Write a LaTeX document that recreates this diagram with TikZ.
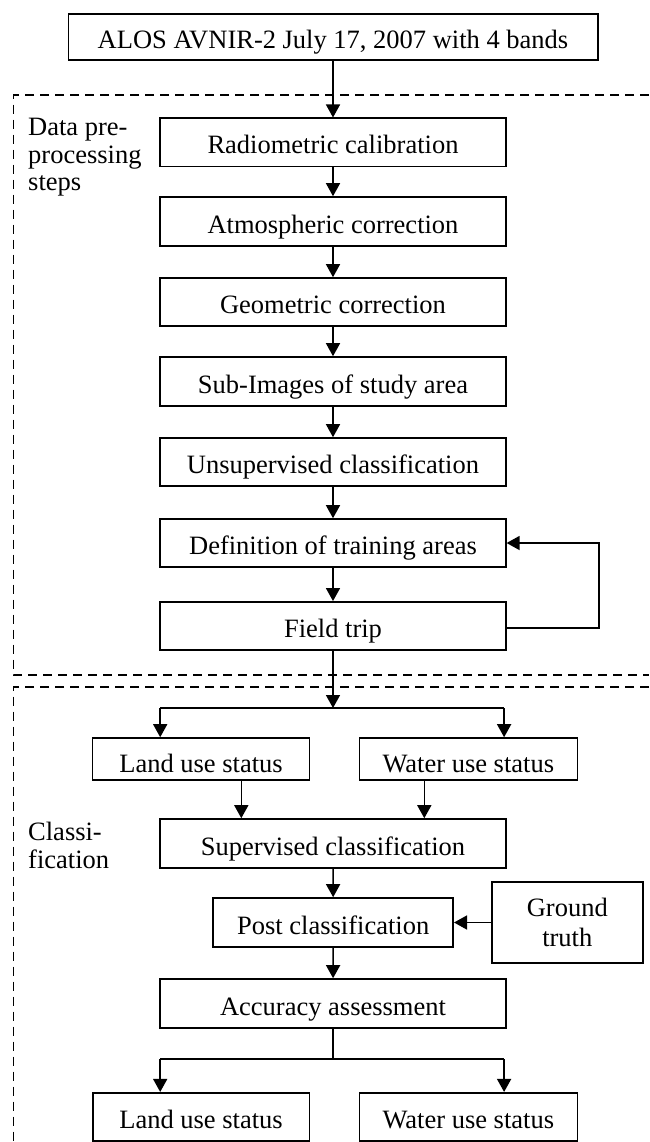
\documentclass[tikz,border=0pt]{standalone}
\usepackage{fontspec}
\setmainfont{Liberation Serif}
\usetikzlibrary{arrows.meta}
\begin{document}
\begin{tikzpicture}[x=1pt,y=-1pt,
  box/.style={draw, line width=1.6pt, inner sep=0pt, text depth=0pt, text height=23pt,
    font=\fontsize{26.5}{30}\selectfont},
  arr/.style={line width=1.5pt, -{Triangle[length=13pt,width=14pt]}},
  ln/.style={line width=1.5pt},
  dsh/.style={line width=1.3pt, dash pattern=on 9pt off 6pt},
  lbl/.style={anchor=north west, inner sep=0pt, align=left, font=\fontsize{26.5}{27.5}\selectfont}]
\useasboundingbox (0,0) rectangle (649,1142);

% nodes
\node[box, text height=22pt, minimum width=529.4pt, minimum height=46pt] (top) at (333,37.2) {ALOS AVNIR-2 July 17, 2007 with 4 bands};
\node[box, minimum width=345.6pt, minimum height=48.4pt] (rad) at (333,142.5) {Radiometric calibration};
\node[box, minimum width=345.6pt, minimum height=49pt] (atm) at (333,221.5) {Atmospheric correction};
\node[box, minimum width=345.6pt, minimum height=48pt] (geo) at (333,302) {Geometric correction};
\node[box, minimum width=345.6pt, minimum height=49pt] (sub) at (333,381.5) {Sub-Images of study area};
\node[box, minimum width=345.6pt, minimum height=48pt] (uns) at (333,462) {Unsupervised classification};
\node[box, minimum width=345.6pt, minimum height=48pt] (def) at (333,543) {Definition of training areas};
\node[box, minimum width=345.6pt, minimum height=48.3pt] (fld) at (333,626) {Field trip};

\node[box, text height=26pt, minimum width=217pt, minimum height=42pt] (land1) at (201,759) {Land use status};
\node[box, text height=26pt, minimum width=218pt, minimum height=42pt] (water1) at (468.3,759) {Water use status};
\node[box, minimum width=346pt, minimum height=49pt] (sup) at (333,843.5) {Supervised classification};
\node[box, minimum width=240pt, minimum height=49pt] (post) at (333.2,922.5) {Post classification};
\node[draw, line width=1.6pt, inner sep=0pt, align=center, minimum width=151pt, minimum height=81pt,
      font=\fontsize{26.5}{30}\selectfont] (gt) at (567.3,922.5) {Ground\\truth};
\node[box, minimum width=346pt, minimum height=49pt] (acc) at (333,1003.5) {Accuracy assessment};
\node[box, minimum width=216.6pt, minimum height=48.3pt] (land2) at (201,1116.9) {Land use status};
\node[box, minimum width=218pt, minimum height=48.3pt] (water2) at (468.3,1116.9) {Water use status};

\node[lbl] (lab1) at (28,118) {Data pre-\\processing\\steps};
\node[lbl] (lab2) at (28,822) {Classi-\\fication};

% dashed frames
\draw[dsh] (649,95) -- (13.7,95) -- (13.7,675) -- (649,675);
\draw[dsh] (649,687) -- (13.7,687) -- (13.7,1142);

% connectors
\draw[arr] (top) -- (rad);
\draw[arr] (rad) -- (atm);
\draw[arr] (atm) -- (geo);
\draw[arr] (geo) -- (sub);
\draw[arr] (sub) -- (uns);
\draw[arr] (uns) -- (def);
\draw[arr] (def) -- (fld);
\draw[arr] ([yshift=-2pt]fld.east) -- ++(92.2,0) |- (def.east);

\coordinate (b1) at (333,708);
\coordinate (b1l) at (160.2,708);
\coordinate (b1r) at (504.1,708);
\draw[arr] (fld) -- (b1);
\draw[ln] (b1l) -- (b1r);
\draw[arr] (b1l) -- (b1l |- land1.north);
\draw[arr] (b1r) -- (b1r |- water1.north);

\draw[arr] ([xshift=40.3pt]land1.south) -- ([xshift=40.3pt]land1.south |- sup.north);
\draw[arr] ([xshift=-44pt]water1.south) -- ([xshift=-44pt]water1.south |- sup.north);
\draw[arr] (sup) -- (post);
\draw[arr] (gt) -- (post);
\draw[arr] (post) -- (acc);

\coordinate (b2) at (333,1059);
\coordinate (b2l) at (160.2,1059);
\coordinate (b2r) at (504.1,1059);
\draw[ln] (acc) -- (b2);
\draw[ln] (b2l) -- (b2r);
\draw[arr] (b2l) -- (b2l |- land2.north);
\draw[arr] (b2r) -- (b2r |- water2.north);
\end{tikzpicture}
\end{document}
